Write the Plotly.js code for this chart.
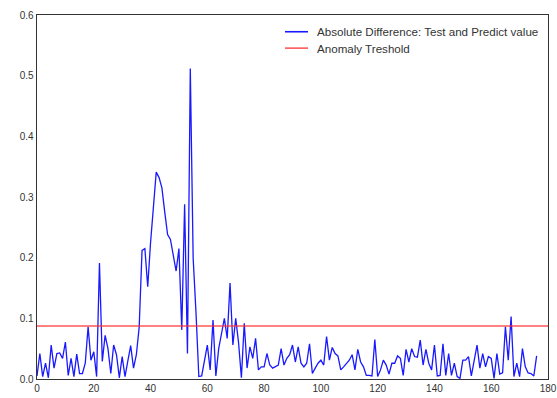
<!DOCTYPE html>
<html>
<head>
<meta charset="utf-8">
<script src="https://cdn.plot.ly/plotly-3.0.1.min.js"></script>
<style>html,body{margin:0;padding:0;background:#fff;}#chart{width:557px;height:398px;}</style>
</head>
<body>
<div id="chart"></div>
<script>
const absDiff = [
  0.005, 0.042, 0.004, 0.026, 0.002, 0.056, 0.018, 0.042, 0.043, 0.034,
  0.061, 0.006, 0.034, 0.004, 0.041, 0.009, 0.009, 0.026, 0.086, 0.031,
  0.045, 0.004, 0.191, 0.029, 0.072, 0.050, 0.009, 0.056, 0.040, 0.002,
  0.037, 0.004, 0.030, 0.055, 0.018, 0.040, 0.086, 0.212, 0.215, 0.152,
  0.225, 0.285, 0.341, 0.332, 0.315, 0.275, 0.238, 0.230, 0.205, 0.178,
  0.215, 0.081, 0.288, 0.042, 0.512, 0.200, 0.110, 0.004, 0.005, 0.030,
  0.056, 0.015, 0.097, 0.005, 0.050, 0.075, 0.100, 0.067, 0.158, 0.056,
  0.100, 0.060, 0.002, 0.092, 0.018, 0.053, 0.034, 0.067, 0.015, 0.020,
  0.020, 0.042, 0.023, 0.018, 0.020, 0.023, 0.050, 0.023, 0.034, 0.040,
  0.056, 0.028, 0.053, 0.026, 0.020, 0.026, 0.058, 0.009, 0.018, 0.026,
  0.031, 0.023, 0.070, 0.031, 0.052, 0.042, 0.038, 0.015, 0.020, 0.026,
  0.031, 0.040, 0.015, 0.049, 0.028, 0.020, 0.006, 0.006, 0.005, 0.065,
  0.004, 0.015, 0.031, 0.023, 0.008, 0.026, 0.026, 0.038, 0.034, 0.006,
  0.049, 0.028, 0.050, 0.037, 0.036, 0.064, 0.023, 0.049, 0.026, 0.015,
  0.056, 0.005, 0.006, 0.058, 0.006, 0.042, 0.006, 0.026, 0.004, 0.001,
  0.031, 0.031, 0.037, 0.005, 0.034, 0.056, 0.018, 0.042, 0.020, 0.037,
  0.034, 0.001, 0.042, 0.008, 0.010, 0.086, 0.031, 0.103, 0.004, 0.026,
  0.004, 0.050, 0.020, 0.010, 0.009, 0.005, 0.038
];
const indexX = absDiff.map((_, i) => i);
const thresholdValue = 0.0875;
const thresholdX = [0, 180];
const xTicks = [0, 20, 40, 60, 80, 100, 120, 140, 160, 180];
const yTicks = [0.0, 0.1, 0.2, 0.3, 0.4, 0.5, 0.6];
const seriesNames = ['Absolute Difference: Test and Predict value', 'Anomaly Treshold'];
const seriesColors = ['rgb(25,25,255)', 'rgba(255,45,45,0.8)'];

const traces = [
  {x: indexX, y: absDiff, type: 'scatter', mode: 'lines', name: seriesNames[0],
   line: {color: seriesColors[0], width: 1.3}},
  {x: thresholdX, y: thresholdX.map(() => thresholdValue), type: 'scatter', mode: 'lines', name: seriesNames[1],
   line: {color: seriesColors[1], width: 1.5}}
];
const fontFam = 'Liberation Sans, Arial, sans-serif';
const axisCommon = {
  showgrid: false, zeroline: false, showline: true, mirror: true,
  linecolor: '#333', linewidth: 1.3, ticks: '',
  tickfont: {family: fontFam, size: 10, color: '#333'}
};
// manual legend (paper coordinates) to match compact matplotlib-style legend
const legRows = [0.954, 0.909];
const legendShapes = seriesNames.map((n, i) => ({
  type: 'line', xref: 'paper', yref: 'paper', x0: 0.4853, x1: 0.5303, y0: legRows[i], y1: legRows[i],
  line: {color: seriesColors[i], width: 1.6}
}));
const legendAnns = seriesNames.map((n, i) => ({
  xref: 'paper', yref: 'paper', x: 0.5435, y: legRows[i], xanchor: 'left', yanchor: 'middle',
  text: n, showarrow: false, font: {family: fontFam, size: 11.6, color: '#333'}
}));
const layout = {
  width: 557, height: 398,
  margin: {l: 37, r: 9, t: 15, b: 19},
  paper_bgcolor: '#fff', plot_bgcolor: '#fff',
  showlegend: false,
  shapes: legendShapes,
  annotations: legendAnns,
  xaxis: Object.assign({}, axisCommon, {range: [0, 180], tickvals: xTicks, ticktext: xTicks.map(String)}),
  yaxis: Object.assign({}, axisCommon, {range: [0, 0.6], tickvals: yTicks, ticktext: yTicks.map(v => v.toFixed(1))})
};
Plotly.newPlot('chart', traces, layout, {displayModeBar: false, staticPlot: true});
</script>
</body>
</html>
